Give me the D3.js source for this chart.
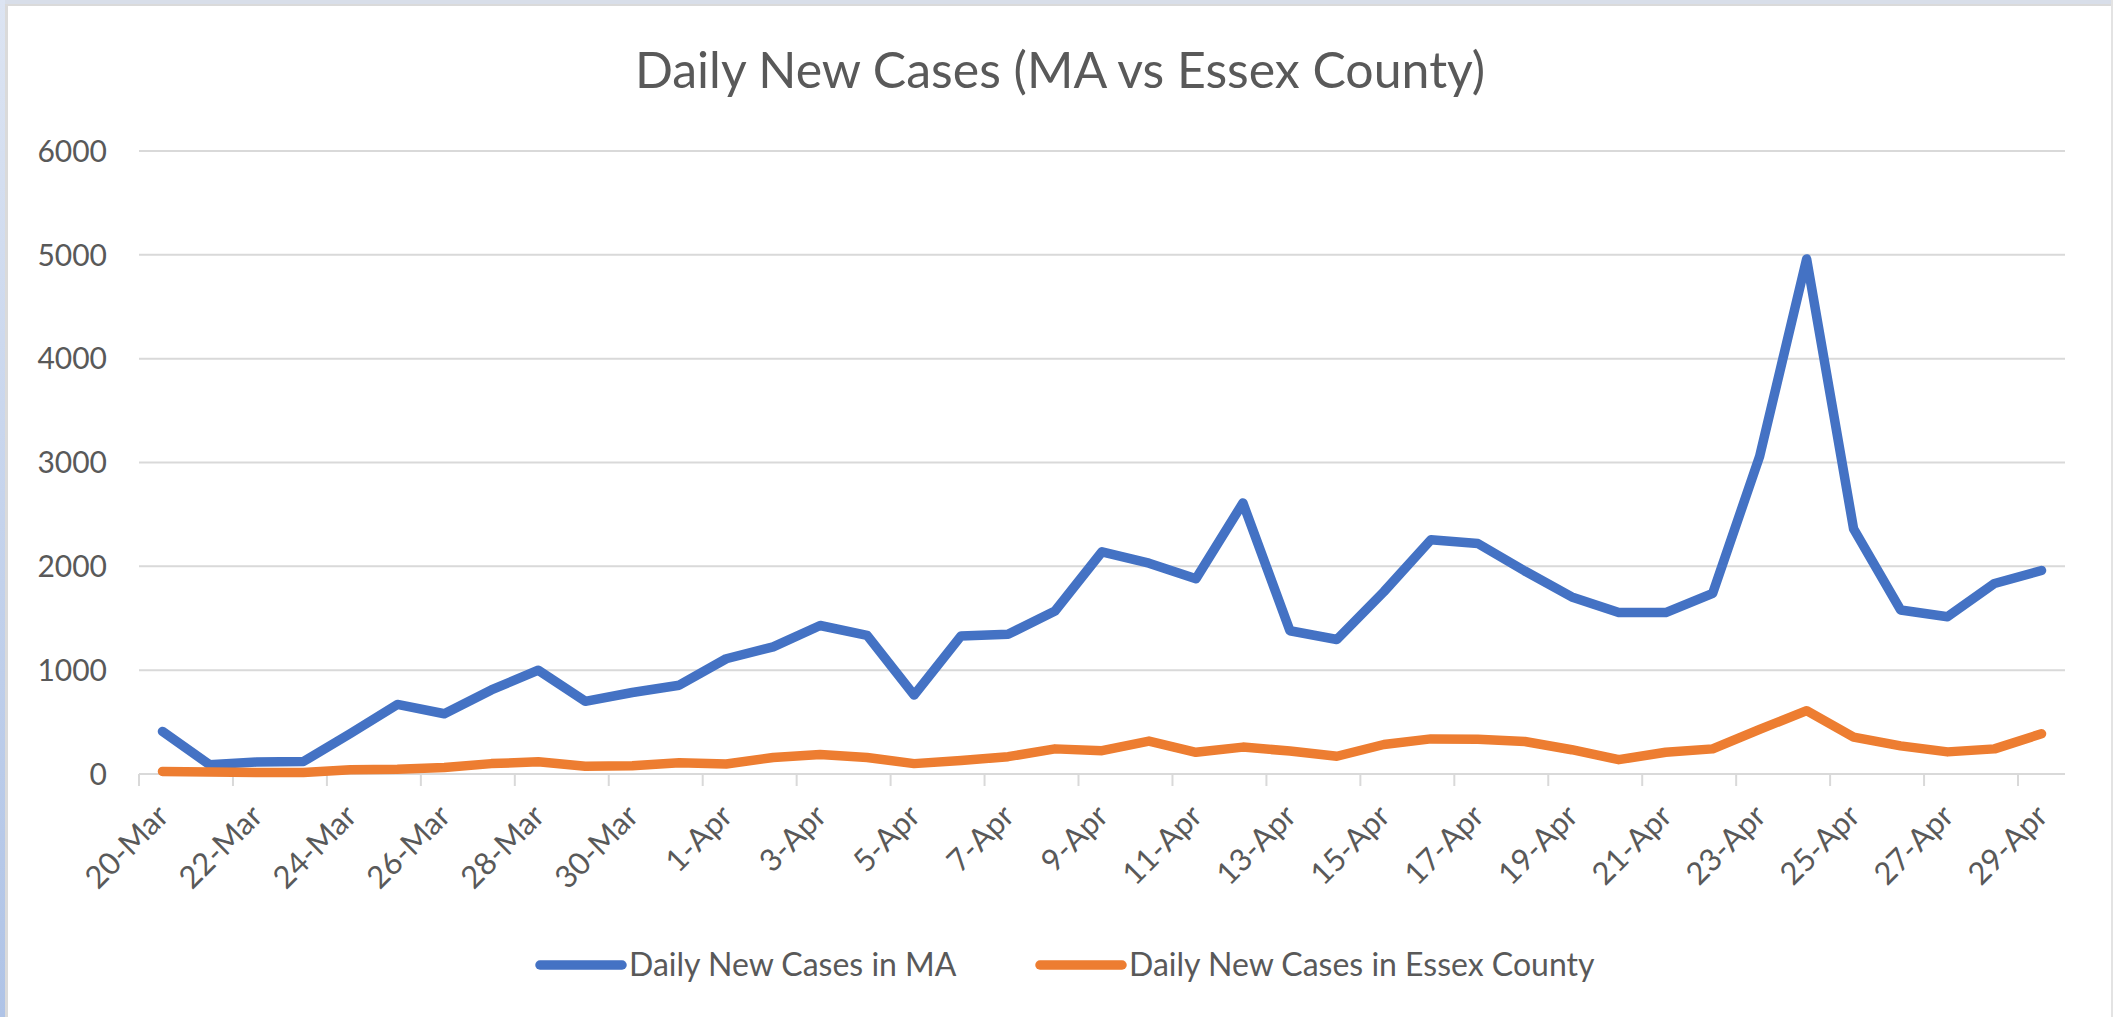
<head>
    <meta charset="utf-8">
    <style>
        body { margin: 0; background: #ffffff; }
        .lbl { font-family: Lato, "Noto Sans", sans-serif; fill: #595959; }
    </style>
    <script src="https://d3js.org/d3.v7.min.js"></script>
</head>
<body>
<div id="chart"></div>
<script>
    var dates = ["20-Mar","21-Mar","22-Mar","23-Mar","24-Mar","25-Mar","26-Mar","27-Mar","28-Mar","29-Mar",
                 "30-Mar","31-Mar","1-Apr","2-Apr","3-Apr","4-Apr","5-Apr","6-Apr","7-Apr","8-Apr",
                 "9-Apr","10-Apr","11-Apr","12-Apr","13-Apr","14-Apr","15-Apr","16-Apr","17-Apr","18-Apr",
                 "19-Apr","20-Apr","21-Apr","22-Apr","23-Apr","24-Apr","25-Apr","26-Apr","27-Apr","28-Apr","29-Apr"];

    var casesMA = [410, 90, 115, 120, 390, 670, 580, 810, 1000, 700,
                   785, 855, 1110, 1225, 1430, 1335, 760, 1330, 1345, 1570,
                   2140, 2030, 1880, 2610, 1380, 1295, 1755, 2255, 2220, 1955,
                   1705, 1555, 1555, 1740, 3060, 4960, 2360, 1580, 1515, 1835, 1960];

    var casesEssex = [25, 20, 15, 15, 42, 46, 63, 100, 117, 75,
                      79, 108, 96, 159, 188, 159, 100, 129, 167, 242,
                      225, 317, 209, 259, 221, 171, 284, 338, 334, 313,
                      234, 138, 209, 242, 430, 610, 355, 271, 213, 242, 388];

    var yTicks = [0, 1000, 2000, 3000, 4000, 5000, 6000];

    var seriesNames = ["Daily New Cases in MA", "Daily New Cases in Essex County"];
    var colors = ["#4472C4", "#ED7D31"];

    var W = 2113, H = 1017;
    var m = { left: 139, right: 2065, top: 151, bottom: 774 };

    var svg = d3.select("#chart").append("svg")
        .attr("width", W)
        .attr("height", H);

    // window frame
    var grad = svg.append("defs").append("linearGradient")
        .attr("id", "frame").attr("x1", 0).attr("x2", 0).attr("y1", 0).attr("y2", 1);
    grad.append("stop").attr("offset", "0%").attr("stop-color", "#DCE4F2");
    grad.append("stop").attr("offset", "100%").attr("stop-color", "#AFC3E6");
    svg.append("rect").attr("x", 0).attr("y", 0).attr("width", W).attr("height", 5).attr("fill", "#D8DEE9");
    svg.append("rect").attr("x", 0).attr("y", 0).attr("width", 5).attr("height", H).attr("fill", "url(#frame)");
    svg.append("rect").attr("x", 5).attr("y", 4).attr("width", 3).attr("height", H).attr("fill", "#DADADA");
    svg.append("rect").attr("x", 5).attr("y", 4).attr("width", W).attr("height", 2).attr("fill", "#DADADA");
    svg.append("rect").attr("x", W - 2).attr("y", 0).attr("width", 2).attr("height", H).attr("fill", "#E3E3E3");

    svg.append("text")
        .attr("class", "lbl")
        .attr("x", 1060)
        .attr("y", 88)
        .attr("text-anchor", "middle")
        .attr("font-size", 50)
        .text("Daily New Cases (MA vs Essex County)");

    var x = d3.scaleBand()
        .domain(dates)
        .range([m.left, m.right]);

    var y = d3.scaleLinear()
        .domain([0, 6000])
        .range([m.bottom, m.top]);

    // gridlines
    svg.append("g")
        .selectAll("line")
        .data(yTicks)
        .enter()
        .append("line")
        .attr("x1", m.left)
        .attr("x2", m.right)
        .attr("y1", d => y(d))
        .attr("y2", d => y(d))
        .attr("stroke", "#D9D9D9")
        .attr("stroke-width", 2);

    svg.append("g")
        .selectAll("text")
        .data(yTicks)
        .enter()
        .append("text")
        .attr("class", "lbl")
        .attr("x", 107)
        .attr("y", d => y(d))
        .attr("dy", "0.36em")
        .attr("text-anchor", "end")
        .attr("font-size", 30)
        .text(d => d);

    // category ticks every 2 days, marks between categories
    var shown = dates.filter((d, i) => i % 2 == 0);

    svg.append("g")
        .selectAll("line")
        .data(shown)
        .enter()
        .append("line")
        .attr("x1", d => x(d))
        .attr("x2", d => x(d))
        .attr("y1", m.bottom)
        .attr("y2", m.bottom + 12)
        .attr("stroke", "#D9D9D9")
        .attr("stroke-width", 2);

    svg.append("g")
        .selectAll("text")
        .data(shown)
        .enter()
        .append("text")
        .attr("class", "lbl")
        .attr("font-size", 31)
        .attr("text-anchor", "end")
        .attr("transform", d => `translate(${x(d) + x.bandwidth() / 2 + 8},${m.bottom + 44}) rotate(-45)`)
        .text(d => d);

    var line = d3.line()
        .x((d, i) => x(dates[i]) + x.bandwidth() / 2)
        .y(d => y(d));

    [casesMA, casesEssex].forEach(function(s, k) {
        svg.append("path")
            .datum(s)
            .attr("d", line)
            .attr("fill", "none")
            .attr("stroke", colors[k])
            .attr("stroke-width", 9.5)
            .attr("stroke-linejoin", "round")
            .attr("stroke-linecap", "round");
    });

    // legend
    var legendX = [540, 1040];
    var legend = svg.append("g");
    seriesNames.forEach(function(name, k) {
        legend.append("line")
            .attr("x1", legendX[k])
            .attr("x2", legendX[k] + 82)
            .attr("y1", 965)
            .attr("y2", 965)
            .attr("stroke", colors[k])
            .attr("stroke-width", 9.5)
            .attr("stroke-linecap", "round");
        legend.append("text")
            .attr("class", "lbl")
            .attr("x", legendX[k] + 89)
            .attr("y", 976)
            .attr("font-size", 32)
            .text(name);
    });
</script>
</body>
